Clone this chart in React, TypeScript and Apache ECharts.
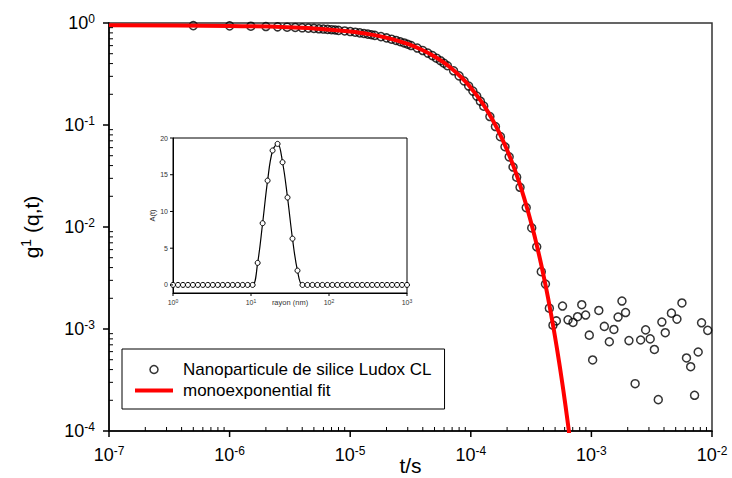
import React, { useEffect, useRef } from 'react';
import * as echarts from 'echarts';

// ---- main correlation function data (t in s, g1 dimensionless) ----
const lagTimes = [
  5e-7, 1e-6, 1.5e-6, 2e-6, 2.5e-6, 3e-6, 3.5e-6, 4e-6, 4.5e-6, 5e-6, 5.5e-6, 6e-6, 6.5e-6, 7e-6, 7.5e-6, 8e-6,
  9e-6, 1e-5, 1.1e-5, 1.2e-5, 1.3e-5, 1.4e-5, 1.5e-5, 1.6e-5,
  1.8e-5, 2e-5, 2.2e-5, 2.4e-5, 2.6e-5, 2.8e-5, 3e-5, 3.2e-5,
  3.6e-5, 4e-5, 4.4e-5, 4.8e-5, 5.2e-5, 5.6e-5, 6e-5, 6.4e-5,
  7.2e-5, 8e-5, 8.8e-5, 9.6e-5, 1.04e-4, 1.12e-4, 1.2e-4, 1.28e-4,
  1.44e-4, 1.6e-4, 1.76e-4, 1.92e-4, 2.08e-4, 2.24e-4, 2.4e-4, 2.56e-4,
  2.88e-4, 3.2e-4, 3.52e-4, 3.84e-4, 4.16e-4, 4.48e-4, 4.8e-4, 5.12e-4,
  5.76e-4, 6.4e-4, 7.04e-4, 7.68e-4, 8.32e-4, 8.96e-4, 9.6e-4, 1.024e-3,
  1.152e-3, 1.28e-3, 1.408e-3, 1.536e-3, 1.664e-3, 1.792e-3, 1.92e-3, 2.048e-3,
  2.304e-3, 2.56e-3, 2.816e-3, 3.072e-3, 3.328e-3, 3.584e-3, 3.84e-3, 4.096e-3,
  4.608e-3, 5.12e-3, 5.632e-3, 6.144e-3, 6.656e-3, 7.168e-3, 7.68e-3, 8.192e-3,
  9.216e-3,
];
const g1Values = [
  0.943, 0.937, 0.93, 0.923, 0.917, 0.91, 0.904, 0.897, 0.891, 0.885, 0.878, 0.872, 0.866, 0.86, 0.854, 0.847,
  0.835, 0.824, 0.812, 0.8, 0.789, 0.778, 0.767, 0.756,
  0.735, 0.714, 0.694, 0.674, 0.655, 0.637, 0.619, 0.601,
  0.568, 0.537, 0.507, 0.479, 0.452, 0.427, 0.403, 0.381,
  0.34, 0.303, 0.27, 0.241, 0.215, 0.192, 0.171, 0.153,
  0.121, 0.0966, 0.0769, 0.0612, 0.0487, 0.0387, 0.0308, 0.0245,
  0.0155, 0.0098, 0.0064, 0.00365, 0.00276, 0.0016, 0.00109, 0.0012,
  0.00168, 0.00123, 0.00116, 0.00132, 0.00173, 0.00137, 0.00087, 0.000497,
  0.00152, 0.00106, 0.00075, 0.00099, 0.00131, 0.00188, 0.00145, 0.00077,
  0.000291, 0.00078, 0.00098, 0.0008, 0.00063, 0.000203, 0.00117, 0.00092,
  0.00143, 0.00125, 0.0018, 0.00052, 0.000427, 0.000224, 0.000595, 0.00115,
  0.00097,
];

// ---- monoexponential fit curve ----
const fitTimes = [
  1e-7, 1e-6, 3e-6, 5e-6, 1e-5, 1.5e-5, 2e-5, 2.5e-5, 3e-5, 4e-5, 5e-5, 6e-5, 7e-5, 8e-5, 9e-5, 1e-4,
  1.2e-4, 1.4e-4, 1.6e-4, 1.8e-4, 2e-4, 2.25e-4, 2.5e-4, 2.75e-4, 3e-4, 3.25e-4, 3.5e-4, 3.75e-4, 4e-4,
  4.25e-4, 4.5e-4, 4.75e-4, 5e-4, 5.25e-4, 5.5e-4, 5.75e-4, 6e-4, 6.25e-4, 6.5e-4, 6.75e-4,
];
const fitValues = [
  0.9487, 0.9367, 0.9107, 0.8854, 0.8252, 0.7691, 0.7168, 0.668, 0.6226, 0.5408, 0.4698, 0.408, 0.3544, 0.3079, 0.2674, 0.2323,
  0.1753, 0.1322, 0.0998, 0.0753, 0.0568, 0.03995, 0.0281, 0.01976, 0.01389, 0.00977, 0.00687, 0.00483, 0.003396,
  0.002388, 0.00168, 0.001181, 0.00083, 0.000584, 0.000411, 0.000289, 0.000203, 0.000143, 0.0001004, 0.0000706,
];

// ---- inset: size distribution ----
const radii = [
  1.0, 1.158, 1.342, 1.554, 1.8, 2.085, 2.415, 2.798, 3.241, 3.754, 4.348, 5.037, 5.834, 6.758, 7.829, 9.069,
  10.5, 12.17, 14.09, 16.32, 18.91, 21.9, 25.37, 29.39, 34.03, 39.43, 45.67, 52.9, 61.28, 70.98, 82.22, 95.22,
  110.3, 127.8, 148.0, 171.4, 198.6, 230.0, 266.4, 308.6, 357.4, 414.0, 479.6, 555.5, 643.4, 745.3, 863.3, 1000,
];
const amplitudes = [
  0, 0, 0, 0, 0, 0, 0, 0, 0, 0, 0, 0, 0, 0, 0, 0,
  0, 3.0, 8.4, 14.2, 18.3, 19.2, 16.7, 11.9, 6.3, 1.95, 0, 0, 0, 0, 0, 0,
  0, 0, 0, 0, 0, 0, 0, 0, 0, 0, 0, 0, 0, 0, 0, 0,
];

// ---- ticks ----
const xMajorTicks = [1e-7, 1e-6, 1e-5, 1e-4, 1e-3, 1e-2];
const yMajorTicks = [1e-4, 1e-3, 1e-2, 1e-1, 1];
const insetXTicks = [1, 10, 100, 1000];
const insetYTicks = [0, 5, 10, 15, 20];

const minorTicks = (majors: number[]) => {
  const out: number[] = [];
  for (let i = 0; i < majors.length - 1; i++) {
    for (let k = 2; k <= 9; k++) out.push(k * majors[i]);
  }
  return out;
};
const xMinorTicks = minorTicks(xMajorTicks);
const yMinorTicks = minorTicks(yMajorTicks);

const FONT = '"Liberation Sans", Arial, Helvetica, sans-serif';

const powLabel = (v: number) => `{b|10}{s|${Math.round(Math.log10(v))}}`;

const mainRich = {
  b: { fontSize: 18, lineHeight: 20, fontFamily: FONT, color: '#000' },
  s: { fontSize: 12, lineHeight: 12, verticalAlign: 'top', fontFamily: FONT, color: '#000' },
};
const insetRich = {
  b: { fontSize: 7, lineHeight: 8, fontFamily: FONT, color: '#333' },
  s: { fontSize: 5, lineHeight: 5, verticalAlign: 'top', fontFamily: FONT, color: '#333' },
};

// tick renderers (positions come from the axes through api.coord)
const xTickRender = (len: number[]) => (params: any, api: any) => {
  const p = api.coord([api.value(0), api.value(1)]);
  const major = api.value(2) === 1;
  return {
    type: 'line',
    shape: { x1: p[0], y1: p[1], x2: p[0], y2: major ? p[1] + len[0] : p[1] - len[1] },
    style: { stroke: '#000', lineWidth: major ? len[2] : 1 },
  };
};
const yTickRender = (len: number[]) => (params: any, api: any) => {
  const p = api.coord([api.value(0), api.value(1)]);
  const major = api.value(2) === 1;
  return {
    type: 'line',
    shape: { x1: p[0], y1: p[1], x2: major ? p[0] - len[0] : p[0] + len[1], y2: p[1] },
    style: { stroke: '#000', lineWidth: major ? len[2] : 1 },
  };
};

export default function App() {
  const ref = useRef<HTMLDivElement>(null);
  useEffect(() => {
    if (!ref.current) return;
    const chart = echarts.init(ref.current, undefined, { renderer: 'svg' });
    const noTick = { show: false };
    const option: any = {
      animation: false,
      backgroundColor: '#fff',
      textStyle: { fontFamily: FONT },
      grid: [
        {
          left: 109, top: 23, width: 603, height: 408, outerBoundsMode: 'none', containLabel: false,
          show: true, borderColor: '#333', borderWidth: 1.5, backgroundColor: 'transparent',
        },
        {
          left: 173, top: 138, width: 234, height: 155, outerBoundsMode: 'none', containLabel: false,
          show: true, borderColor: '#000', borderWidth: 1, backgroundColor: '#fff',
        },
      ],
      legend: {
        orient: 'vertical',
        left: 122,
        top: 349,
        padding: [12, 13, 10, 13],
        itemGap: 4,
        itemWidth: 38,
        itemHeight: 8,
        selectedMode: false,
        backgroundColor: '#fff',
        borderColor: '#000',
        borderWidth: 1,
        borderRadius: 0,
        textStyle: { fontSize: 17, color: '#000', fontFamily: FONT, padding: [0, 0, 0, 5] },
        data: [
          { name: 'Nanoparticule de silice Ludox CL', icon: 'circle', itemStyle: { color: 'rgba(0,0,0,0)', borderColor: '#000', borderWidth: 1.5 } },
          { name: 'monoexponential fit', icon: 'path://M0 0H38V4H0Z', itemStyle: { color: '#ff0000', borderWidth: 0 } },
        ],
      },
      xAxis: [
        {
          type: 'log', logBase: 10, gridIndex: 0, min: 1e-7, max: 1e-2,
          name: 't/s', nameLocation: 'middle', nameGap: 24, nameMoveOverlap: false,
          nameTextStyle: { fontSize: 21, color: '#000', fontFamily: FONT },
          axisLine: { onZero: false, lineStyle: { color: '#000', width: 1.5 } },
          axisTick: noTick,
          axisLabel: { customValues: xMajorTicks, margin: 14, formatter: powLabel, rich: mainRich },
          splitLine: { show: false },
          minorTick: { show: false },
        },
        {
          type: 'log', logBase: 10, gridIndex: 1, min: 1, max: 1000,
          name: 'rayon (nm)', nameLocation: 'middle', nameGap: 5, nameMoveOverlap: false,
          nameTextStyle: { fontSize: 7.5, color: '#333', fontFamily: FONT },
          axisLine: { onZero: false, lineStyle: { color: '#000', width: 1 } },
          axisTick: noTick,
          axisLabel: { customValues: insetXTicks, margin: 5, formatter: powLabel, rich: insetRich },
          splitLine: { show: false },
        },
      ],
      yAxis: [
        {
          type: 'log', logBase: 10, gridIndex: 0, min: 1e-4, max: 1,
          name: '{b|g}{s|1}{b| (q,t)}', nameLocation: 'middle', nameGap: 66, nameMoveOverlap: false,
          nameTextStyle: {
            rich: {
              b: { fontSize: 21, lineHeight: 24, fontFamily: FONT, color: '#000' },
              s: { fontSize: 14, lineHeight: 14, verticalAlign: 'top', fontFamily: FONT, color: '#000' },
            },
          },
          axisLine: { onZero: false, lineStyle: { color: '#000', width: 1.5 } },
          axisTick: noTick,
          axisLabel: { customValues: yMajorTicks, margin: 14, formatter: powLabel, rich: mainRich },
          splitLine: { show: false },
          minorTick: { show: false },
        },
        {
          type: 'value', gridIndex: 1, min: -1.1, max: 20,
          name: 'A(t)', nameLocation: 'middle', nameGap: 17, nameMoveOverlap: false,
          nameTextStyle: { fontSize: 7.5, color: '#333', fontFamily: FONT },
          axisLine: { onZero: false, lineStyle: { color: '#000', width: 1 } },
          axisTick: noTick,
          axisLabel: { customValues: insetYTicks, margin: 5, fontSize: 7, color: '#333', fontFamily: FONT },
          splitLine: { show: false },
        },
      ],
      series: [
        {
          name: 'Nanoparticule de silice Ludox CL',
          type: 'scatter',
          xAxisIndex: 0, yAxisIndex: 0,
          symbol: 'circle', symbolSize: 8,
          itemStyle: { color: 'rgba(0,0,0,0)', borderColor: '#000', borderWidth: 1.5 },
          data: lagTimes.map((t, i) => [t, g1Values[i]]),
          z: 2,
        },
        {
          name: 'monoexponential fit',
          type: 'line',
          xAxisIndex: 0, yAxisIndex: 0,
          symbol: 'none',
          smooth: 0.3,
          clip: true,
          lineStyle: { color: '#ff0000', width: 4 },
          itemStyle: { color: '#ff0000' },
          data: fitTimes.map((t, i) => [t, fitValues[i]]),
          z: 3,
        },
        {
          name: 'xTicks', type: 'custom', xAxisIndex: 0, yAxisIndex: 0, silent: true, clip: false, z: 5,
          renderItem: xTickRender([6, 4, 1.5]),
          data: [...xMajorTicks.map((v) => [v, 1e-4, 1]), ...xMinorTicks.map((v) => [v, 1e-4, 0])],
        },
        {
          name: 'yTicks', type: 'custom', xAxisIndex: 0, yAxisIndex: 0, silent: true, clip: false, z: 5,
          renderItem: yTickRender([6, 4, 1.5]),
          data: [...yMajorTicks.map((v) => [1e-7, v, 1]), ...yMinorTicks.map((v) => [1e-7, v, 0])],
        },
        {
          name: 'distribution',
          type: 'line',
          xAxisIndex: 1, yAxisIndex: 1,
          smooth: 0.4,
          symbol: 'circle', symbolSize: 5,
          showAllSymbol: true,
          itemStyle: { color: '#fff', borderColor: '#000', borderWidth: 1 },
          lineStyle: { color: '#000', width: 1.2 },
          data: radii.map((r, i) => [r, amplitudes[i]]),
          z: 4,
        },
        {
          name: 'insetXTicks', type: 'custom', xAxisIndex: 1, yAxisIndex: 1, silent: true, clip: false, z: 5,
          renderItem: xTickRender([3, 0, 1]),
          data: insetXTicks.map((v) => [v, -1.1, 1]),
        },
        {
          name: 'insetYTicks', type: 'custom', xAxisIndex: 1, yAxisIndex: 1, silent: true, clip: false, z: 5,
          renderItem: yTickRender([3, 0, 1]),
          data: insetYTicks.map((v) => [1, v, 1]),
        },
      ],
    };
    chart.setOption(option);
    return () => chart.dispose();
  }, []);
  return (
    <div
      ref={ref}
      style={{ position: 'fixed', left: 0, top: 0, width: 732, height: 478, background: '#fff' }}
    />
  );
}
